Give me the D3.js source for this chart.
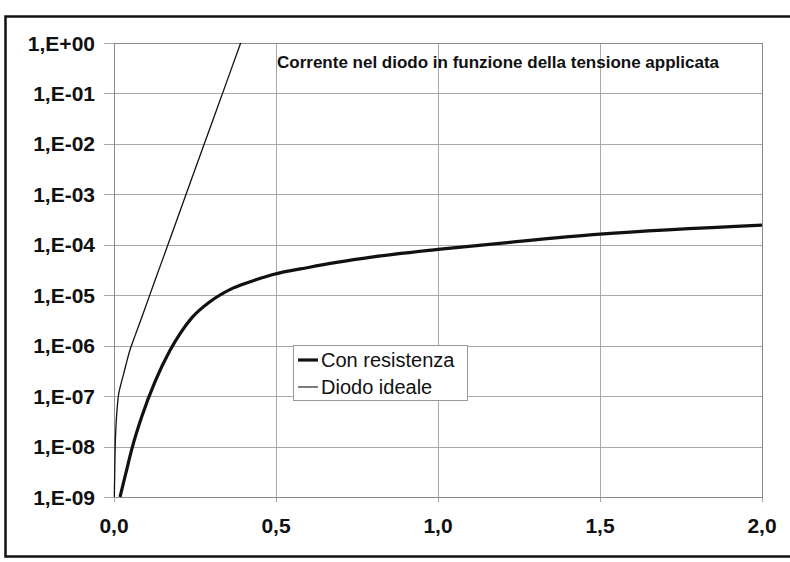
<!DOCTYPE html>
<html>
<head>
<meta charset="utf-8">
<script src="https://cdn.jsdelivr.net/npm/d3@7"></script>
<style>
  html, body { margin: 0; padding: 0; background: #fff; }
  svg { display: block; }
  text { font-family: Arial, "Liberation Sans", sans-serif; }
</style>
</head>
<body>
<svg id="chart" width="790" height="562"></svg>
<script>
// ---- data ----
const title = "Corrente nel diodo in funzione della tensione applicata";
const xTicks = [0.0, 0.5, 1.0, 1.5, 2.0];
const yTicks = [1e0, 1e-1, 1e-2, 1e-3, 1e-4, 1e-5, 1e-6, 1e-7, 1e-8, 1e-9];
const yTickLabels = ["1,E+00", "1,E-01", "1,E-02", "1,E-03", "1,E-04", "1,E-05", "1,E-06", "1,E-07", "1,E-08", "1,E-09"];
const xTickLabels = ["0,0", "0,5", "1,0", "1,5", "2,0"];
const seriesNames = ["Con resistenza", "Diodo ideale"];

// "Con resistenza" (thick)
const resV = [0.0185, 0.035, 0.055, 0.085, 0.127, 0.173, 0.204, 0.240, 0.296, 0.367, 0.44, 0.491, 0.6, 0.687, 0.8, 1.0, 1.222, 1.5, 2.0];
const resI = [1e-9, 2.7e-9, 8.9e-9, 3.8e-8, 1.95e-7, 8.1e-7, 1.74e-6, 3.55e-6, 7.4e-6, 1.38e-5, 2.04e-5, 2.57e-5, 3.55e-5, 4.47e-5, 5.75e-5, 8.1e-5, 1.12e-4, 1.62e-4, 2.45e-4];

// "Diodo ideale" (thin)
const idV = [0.001, 0.003, 0.004, 0.006, 0.009, 0.013, 0.020, 0.030, 0.040, 0.049, 0.065, 0.085, 0.127, 0.163, 0.20, 0.243, 0.30, 0.35, 0.391];
const idI = [1e-9, 6e-9, 1.2e-8, 2.5e-8, 5e-8, 9.5e-8, 1.6e-7, 2.8e-7, 5e-7, 8.1e-7, 1.58e-6, 3.55e-6, 2.0e-5, 8.7e-5, 4.0e-4, 2.34e-3, 2.4e-2, 1.86e-1, 1.0];

// ---- layout ----
const svg = d3.select("#chart");
const plot = { left: 114, right: 762, top: 43, bottom: 497 };

const x = d3.scaleLinear().domain([0, 2]).range([plot.left, plot.right]);
const y = d3.scaleLog().domain([1e-9, 1]).range([plot.bottom, plot.top]);

// background
svg.append("rect").attr("x", 0).attr("y", 0).attr("width", 790).attr("height", 562).attr("fill", "#fff");

// outer frame
svg.append("rect")
  .attr("x", 5.5).attr("y", 16.5).attr("width", 800).attr("height", 540)
  .attr("fill", "none").attr("stroke", "#111").attr("stroke-width", 2.5);

// horizontal gridlines (decades) with left tick marks
svg.append("g").selectAll("line").data(yTicks).join("line")
  .attr("x1", plot.left - 10).attr("x2", plot.right)
  .attr("y1", d => Math.round(y(d)) + 0.5).attr("y2", d => Math.round(y(d)) + 0.5)
  .attr("stroke", "#a8a8a8").attr("stroke-width", 1);

// vertical gridlines with bottom tick marks
svg.append("g").selectAll("line").data(xTicks).join("line")
  .attr("x1", d => Math.round(x(d)) + 0.5).attr("x2", d => Math.round(x(d)) + 0.5)
  .attr("y1", plot.top).attr("y2", plot.bottom + 5)
  .attr("stroke", "#a8a8a8").attr("stroke-width", 1);

// plot border
svg.append("rect")
  .attr("x", plot.left + 0.5).attr("y", plot.top + 0.5)
  .attr("width", plot.right - plot.left).attr("height", plot.bottom - plot.top)
  .attr("fill", "none").attr("stroke", "#8a8a8a").attr("stroke-width", 1);

// y tick labels
svg.append("g").selectAll("text").data(yTicks).join("text")
  .attr("x", 95).attr("y", d => y(d))
  .attr("dy", "0.36em")
  .attr("text-anchor", "end")
  .attr("font-size", 21).attr("font-weight", "bold").attr("fill", "#111")
  .text((d, i) => yTickLabels[i]);

// x tick labels
svg.append("g").selectAll("text").data(xTicks).join("text")
  .attr("x", d => x(d)).attr("y", 533)
  .attr("text-anchor", "middle")
  .attr("font-size", 21).attr("font-weight", "bold").attr("fill", "#111")
  .text((d, i) => xTickLabels[i]);

// title
svg.append("text")
  .attr("x", 277).attr("y", 68)
  .attr("font-size", 17).attr("font-weight", "bold").attr("fill", "#111")
  .text(title);

// curves
const line = d3.line().x(d => x(d[0])).y(d => y(d[1])).curve(d3.curveMonotoneX);
const resData = resV.map((v, i) => [v, resI[i]]);
const idData = idV.map((v, i) => [v, idI[i]]);

svg.append("path").datum(idData)
  .attr("d", line).attr("fill", "none").attr("stroke", "#111").attr("stroke-width", 1.3);
svg.append("path").datum(resData)
  .attr("d", line).attr("fill", "none").attr("stroke", "#111").attr("stroke-width", 3.2)
  .attr("stroke-linejoin", "round");

// legend
const lg = svg.append("g");
lg.append("rect")
  .attr("x", 293.5).attr("y", 345.5).attr("width", 174).attr("height", 55)
  .attr("fill", "#fff").attr("stroke", "#999").attr("stroke-width", 1);
const legendItems = [
  { name: seriesNames[0], w: 3.2, y: 360 },
  { name: seriesNames[1], w: 1.1, y: 387 }
];
legendItems.forEach(it => {
  lg.append("line").attr("x1", 298).attr("x2", 318).attr("y1", it.y).attr("y2", it.y)
    .attr("stroke", "#111").attr("stroke-width", it.w);
  lg.append("text").attr("x", 321).attr("y", it.y).attr("dy", "0.36em")
    .attr("font-size", 20).attr("fill", "#111").text(it.name);
});
</script>
</body>
</html>
